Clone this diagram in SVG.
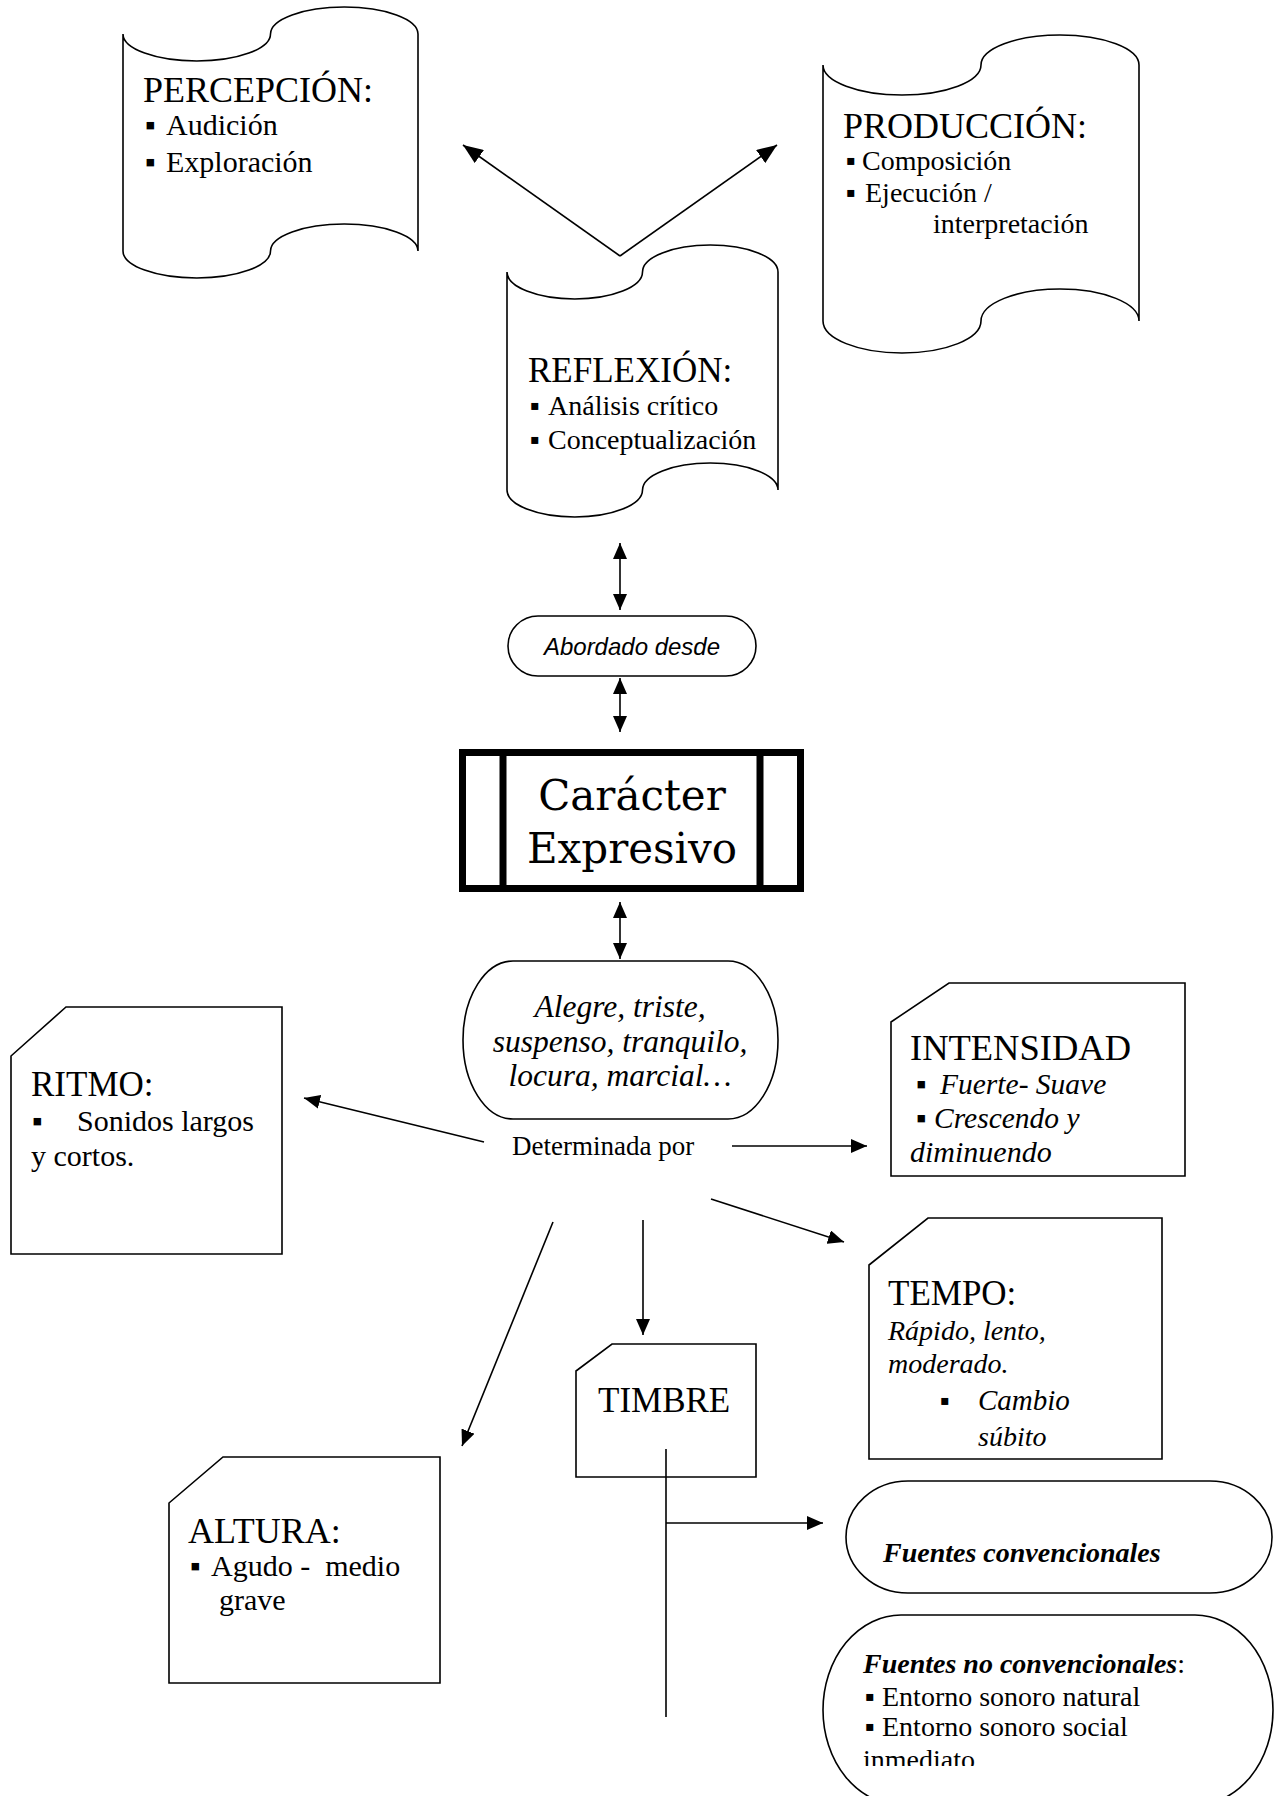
<svg xmlns="http://www.w3.org/2000/svg" width="1274" height="1796" viewBox="0 0 1274 1796">
<style>
.shape{fill:#fff;stroke:#000;stroke-width:1.6}
.conn{fill:none;stroke:#000;stroke-width:1.6}
.h{font-family:"Liberation Serif","Times New Roman",serif;font-size:35px;fill:#000}
.h36{font-size:36px}
.b{font-family:"Liberation Serif","Times New Roman",serif;font-size:28px;fill:#000}
.b30{font-size:30px}
.i{font-style:italic}
.bi{font-style:italic;font-weight:bold}
.abord{font-family:"Liberation Sans",Arial,sans-serif;font-size:24px;font-style:italic;fill:#000}
.car{font-family:"DejaVu Serif",serif;font-size:42px;fill:#000}
</style>
<defs>
<marker id="ah" markerUnits="userSpaceOnUse" markerWidth="16" markerHeight="14" refX="16" refY="7" orient="auto-start-reverse"><path d="M0,0 L16,7 L0,14 z" fill="#000"/></marker>
<marker id="ahL" markerUnits="userSpaceOnUse" markerWidth="20" markerHeight="16" refX="20" refY="8" orient="auto-start-reverse"><path d="M0,0 L20,8 L0,16 z" fill="#000"/></marker>
<clipPath id="clipNo"><rect x="800" y="1600" width="474" height="166"/></clipPath>
</defs>

<g id="percepcion">
<path class="shape" d="M123,34 A73.75,27 0 0 0 270.5,34 A73.75,27 0 0 1 418,34 L418,251 A73.75,27 0 0 0 270.5,251 A73.75,27 0 0 1 123,251 Z"/>
<text class="h h36" x="143" y="102">PERCEPCIÓN:</text>
<text class="b b30" y="135"><tspan x="145">▪</tspan><tspan x="166">Audición</tspan></text>
<text class="b b30" y="172"><tspan x="145">▪</tspan><tspan x="166">Exploración</tspan></text>
</g>

<g id="produccion">
<path class="shape" d="M823,65 A79,30 0 0 0 981,65 A79,30 0 0 1 1139,65 L1139,321 A79,32 0 0 0 981,321 A79,32 0 0 1 823,321 Z"/>
<text class="h h36" x="843" y="138">PRODUCCIÓN:</text>
<text class="b" y="170"><tspan x="846">▪</tspan><tspan x="862">Composición</tspan></text>
<text class="b" y="202"><tspan x="846">▪</tspan><tspan x="865">Ejecución /</tspan></text>
<text class="b" x="933" y="233">interpretación</text>
</g>

<g id="reflexion">
<path class="shape" d="M507,272 A67.75,27 0 0 0 642.5,272 A67.75,27 0 0 1 778,272 L778,490 A67.75,27 0 0 0 642.5,490 A67.75,27 0 0 1 507,490 Z"/>
<text class="h" x="528" y="382">REFLEXIÓN:</text>
<text class="b" y="415"><tspan x="530">▪</tspan><tspan x="548">Análisis crítico</tspan></text>
<text class="b" y="449"><tspan x="530">▪</tspan><tspan x="548">Conceptualización</tspan></text>
</g>

<g id="abordado">
<rect class="shape" x="508" y="616" width="248" height="60" rx="30" ry="30"/>
<text class="abord" x="632" y="655" text-anchor="middle">Abordado desde</text>
</g>

<g id="caracter">
<rect x="462.5" y="752.5" width="338" height="136" fill="#fff" stroke="#000" stroke-width="7"/>
<line x1="503" y1="752" x2="503" y2="889" stroke="#000" stroke-width="7"/>
<line x1="760" y1="752" x2="760" y2="889" stroke="#000" stroke-width="7"/>
<text class="car" x="632" y="810" text-anchor="middle">Carácter</text>
<text class="car" x="632" y="863" text-anchor="middle">Expresivo</text>
</g>

<g id="alegre">
<rect class="shape" x="463" y="961" width="315" height="158" rx="50" ry="79"/>
<text class="b i" x="620" y="1017" text-anchor="middle" style="font-size:31.5px">Alegre, triste,</text>
<text class="b i" x="620" y="1052" text-anchor="middle" style="font-size:31.5px">suspenso, tranquilo,</text>
<text class="b i" x="620" y="1086" text-anchor="middle" style="font-size:31.5px">locura, marcial…</text>
</g>

<g id="determinada">
<text class="b" x="512" y="1155" style="font-size:27px">Determinada por</text>
</g>

<g id="ritmo">
<path class="shape" d="M11,1056 L66,1007 L282,1007 L282,1254 L11,1254 Z"/>
<text class="h" x="31" y="1096">RITMO:</text>
<text class="b b30" y="1131"><tspan x="32">▪</tspan><tspan x="77">Sonidos largos</tspan></text>
<text class="b b30" x="31" y="1166">y cortos.</text>
</g>

<g id="intensidad">
<path class="shape" d="M891,1022 L949,983 L1185,983 L1185,1176 L891,1176 Z"/>
<text class="h" x="910" y="1060" style="font-size:36.5px">INTENSIDAD</text>
<text class="b i" y="1094" style="font-size:29.5px"><tspan x="916">▪</tspan><tspan x="940">Fuerte- Suave</tspan></text>
<text class="b" y="1128" style="font-size:29.5px"><tspan x="916">▪</tspan><tspan class="i" x="934">Crescendo y</tspan></text>
<text class="b i b30" x="910" y="1162">diminuendo</text>
</g>

<g id="tempo">
<path class="shape" d="M869,1265 L928,1218 L1162,1218 L1162,1459 L869,1459 Z"/>
<text class="h" x="888" y="1305">TEMPO:</text>
<text class="b i" x="888" y="1340">Rápido, lento,</text>
<text class="b i" x="888" y="1373">moderado.</text>
<text class="b" y="1410"><tspan x="940">▪</tspan><tspan class="i" x="978" style="font-size:29px">Cambio</tspan></text>
<text class="b i" x="978" y="1446">súbito</text>
</g>

<g id="timbre">
<path class="shape" d="M576,1371 L612,1344 L756,1344 L756,1477 L576,1477 Z"/>
<text class="h" x="598" y="1412">TIMBRE</text>
</g>

<g id="altura">
<path class="shape" d="M169,1503 L223,1457 L440,1457 L440,1683 L169,1683 Z"/>
<text class="h h36" x="188" y="1543">ALTURA:</text>
<text class="b b30" y="1576" xml:space="preserve"><tspan x="190">▪</tspan><tspan x="211">Agudo -  medio</tspan></text>
<text class="b b30" x="219" y="1610">grave</text>
</g>

<g id="fuentes-convencionales">
<rect class="shape" x="846" y="1481" width="426" height="112" rx="62" ry="56"/>
<text class="b bi" x="883" y="1562">Fuentes convencionales</text>
</g>

<g id="fuentes-no-convencionales">
<rect class="shape" x="823" y="1615" width="450" height="190" rx="78" ry="95"/>
<text class="b" y="1673"><tspan x="863" class="bi">Fuentes no convencionales</tspan><tspan>:</tspan></text>
<text class="b" y="1706"><tspan x="865">▪</tspan><tspan x="882">Entorno sonoro natural</tspan></text>
<text class="b" y="1736"><tspan x="865">▪</tspan><tspan x="882">Entorno sonoro social</tspan></text>
<text class="b" x="863" y="1769" clip-path="url(#clipNo)">inmediato</text>
</g>

<g id="connectors">
<line class="conn" x1="620" y1="256" x2="463" y2="145" marker-end="url(#ahL)"/>
<line class="conn" x1="620" y1="256" x2="777" y2="145" marker-end="url(#ahL)"/>
<line class="conn" x1="620" y1="543" x2="620" y2="610" marker-start="url(#ah)" marker-end="url(#ah)"/>
<line class="conn" x1="620" y1="678" x2="620" y2="732" marker-start="url(#ah)" marker-end="url(#ah)"/>
<line class="conn" x1="620" y1="902" x2="620" y2="959" marker-start="url(#ah)" marker-end="url(#ah)"/>
<line class="conn" x1="484" y1="1142" x2="304" y2="1098" marker-end="url(#ah)"/>
<line class="conn" x1="732" y1="1146" x2="867" y2="1146" marker-end="url(#ah)"/>
<line class="conn" x1="711" y1="1199" x2="844" y2="1242" marker-end="url(#ah)"/>
<line class="conn" x1="553" y1="1222" x2="462" y2="1446" marker-end="url(#ah)"/>
<line class="conn" x1="643" y1="1220" x2="643" y2="1335" marker-end="url(#ah)"/>
<line class="conn" x1="666" y1="1449" x2="666" y2="1717"/>
<line class="conn" x1="666" y1="1523" x2="823" y2="1523" marker-end="url(#ah)"/>
</g>
</svg>
